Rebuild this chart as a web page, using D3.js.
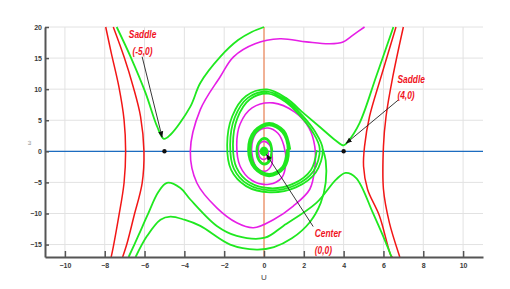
<!DOCTYPE html>
<html>
<head>
<meta charset="utf-8">
<script src="https://cdn.jsdelivr.net/npm/d3@7/dist/d3.min.js"></script>
<style>
body { margin: 0; background: #fff; }
</style>
</head>
<body>
<script>
// tick values for both axes
var xTicks = [-10, -8, -6, -4, -2, 0, 2, 4, 6, 8, 10],
	yTicks = [-15, -10, -5, 0, 5, 10, 15, 20];

// trajectories as [u, v] pairs
// red curves outside the saddles
var redLeftOuter = [[-7.95,20],[-7.67,15.8],[-7.29,10.4],[-7.03,5.1],[-6.95,0],[-7.03,-5.1],[-7.29,-10.4],[-7.67,-16.9],[-7.68,-17]],
	redLeftInner = [[-7.57,20],[-7.03,15.2],[-6.57,10.4],[-6.2,5.6],[-6.03,0],[-6.12,-5.1],[-6.53,-10.4],[-6.87,-14.7],[-7.1,-17]],
	redRightInner = [[6.63,20],[5.88,12],[5.3,5.6],[5.05,0.8],[5.0,-2.4],[5.2,-6.1],[5.8,-10.4],[6.38,-16.8],[6.45,-17]],
	redRightOuter = [[7.0,20],[6.47,12],[6.13,5.6],[6.0,0.8],[6.0,-6.1],[6.3,-11.5],[6.8,-16.8],[6.82,-17]];

// green curves
var greenLeftSaddle = [[-7.4,20],[-6.7,15.2],[-5.95,9.4],[-5.37,4.0],[-5.03,2.0],[-4.7,2.67],[-3.7,7.2],[-3.2,11],[-2.2,15.2],[-1.3,17.9],[-0.62,19.2],[0,20]],
	greenRightSaddle = [[6.5,20],[5.63,12],[4.8,4.55],[4.22,1.6],[4.0,0.96],[3.6,1.75],[2.85,3.8],[2.0,6.1],[1.1,8.6],[0.15,9.95],[-0.9,8.9],
		[-1.6,5.6],[-1.85,1.0],[-1.65,-3.0],[-0.9,-5.6],[0.3,-6.6],[1.6,-5.8],[2.6,-3.4],
		[2.95,0.36],[2.57,3.14],[1.91,5.83],[1.07,8.33],[0.18,9.62],[-0.81,8.6],[-1.47,5.44],[-1.7,1.03],[-1.51,-2.81],[-0.81,-5.31],[0.32,-6.27],
		[1.54,-5.5],[2.48,-3.2],
		[2.8,0.4],[2.45,3.08],[1.83,5.66],[1.04,8.05],[0.21,9.29],[-0.72,8.33],[-1.34,5.3],[-1.56,1.06],[-1.38,-2.62],[-0.72,-5.02],[0.34,-5.94],
		[1.48,-5.2],[2.36,-2.99],[2.65,0.2]],
	greenBottomUpper = [[-6.8,-17],[-6.3,-13.5],[-5.87,-10.4],[-5.3,-6.5],[-4.87,-5.07],[-4.2,-5.9],[-3.7,-7.75],[-2.37,-12],[-1.37,-13.6],[0.05,-13.9],
		[0.97,-12],[2.63,-8.3],[3.63,-4.5],[4.1,-3.47],[4.63,-4.3],[5.47,-9.9],[6.38,-16.8],[6.4,-17]],
	greenBottomLower = [[-6.45,-17],[-5.87,-13.6],[-5.2,-11.0],[-4.7,-10.5],[-4.0,-11.0],[-3.2,-12],[-1.7,-15],[-0.37,-15.8],[0.5,-15.4],[1.4,-14.0],
		[2.3,-11.4],[2.85,-8.3],[3.1,-5.0],[3.1,-1.5],[2.95,0.36]],
	greenMid = [[1.32,0.28],[1.01,3.33],[0.26,4.58],[-0.49,3.33],[-0.8,0.28],[-0.49,-2.77],[0.26,-4.02],[1.01,-2.77],
		[1.25,0.28],[0.96,3.19],[0.26,4.38],[-0.44,3.19],[-0.73,0.28],[-0.44,-2.63],[0.26,-3.82],[0.96,-2.63],
		[1.19,0.28],[0.92,3.05],[0.26,4.18],[-0.4,3.05],[-0.67,0.28],[-0.4,-2.49],[0.26,-3.62],[0.92,-2.49],[1.15,0.3]],
	greenSmall = [[0.42,0],[0.3,1.52],[0.02,2.15],[-0.26,1.52],[-0.38,0],[-0.26,-1.52],[0.02,-2.15],[0.3,-1.52],
		[0.38,0],[0.27,1.41],[0.02,2.0],[-0.23,1.41],[-0.34,0],[-0.23,-1.41],[0.02,-2.0],[0.27,-1.41],[0.37,0]],
	greenCore = [[0.2,0],[0.14,0.5],[0,0.68],[-0.14,0.5],[-0.2,0],[-0.14,-0.5],[0,-0.68],[0.14,-0.5]];

// magenta spiral coming in from the top right
var magentaSpiral = [[5.05,20],[4.47,18.7],[3.97,17.6],[3.3,17.3],[2.13,17.6],[0.8,18.1],[-0.45,17.3],[-1.53,15.2],[-2.2,12],[-3.2,6.7],[-3.7,0],
		[-3.37,-5.1],[-2.37,-9.1],[-1.37,-11.5],[-0.53,-12.3],[0.47,-11],[1.47,-8.8],[2.3,-6.1],
		[2.55,-2.6],[2.55,0.8],[2.25,3.8],[1.55,6.3],[0.45,7.8],[-0.6,7.0],[-1.2,4.4],[-1.37,1.0],[-1.2,-2.4],[-0.6,-4.7],[0.25,-5.3],[0.9,-4.2],
		[1.1,-1.8],[1.0,0.9],[0.7,2.9],[0.2,3.75],[-0.35,3.1],[-0.6,1.3],[-0.58,-0.9],[-0.35,-2.7],[0.05,-3.2],[0.38,-2.2],[0.4,-0.4],[0.28,1.0],
		[0.02,1.6],[-0.22,1.2],[-0.28,0],[-0.2,-1.0],[0.02,-1.3],[0.2,-0.8],[0.18,0.2]];

// equilibrium points and their notes
var saddles = [[-5, 0], [4, 0]],
	noteText = [['Saddle', '(-5,0)'], ['Saddle', '(4,0)'], ['Center', '(0,0)']],
	noteAt = [[-6.1, 18.2], [6.7, 11.0], [2.55, -13.8]],
	noteAnchor = ['middle', 'start', 'start'],
	arrowFrom = [[-6.12, 15.2], [6.75, 8.27], [2.47, -12.1]],
	arrowTo = [[-5.12, 2.3], [4.13, 1.3], [0.13, -0.53]];

// sizing
var width = 510, height = 289,
	p_left = 45, p_right = 483, p_top = 27, p_bottom = 257;

var x = d3.scaleLinear().domain([-11, 11]).range([p_left, p_right]),
	y = d3.scaleLinear().domain([-17, 20]).range([p_bottom, p_top]);

var svg = d3.select('body').append('svg')
	.attr('width', width)
	.attr('height', height)
	.style('font-family', 'Liberation Sans, Arial, sans-serif');

// arrow head
svg.append('defs').append('marker')
	.attr('id', 'head')
	.attr('viewBox', '0 0 10 10')
	.attr('refX', 9)
	.attr('refY', 5)
	.attr('markerWidth', 7)
	.attr('markerHeight', 7)
	.attr('orient', 'auto')
	.append('path')
	.attr('d', 'M0,1L10,5L0,9Z')
	.attr('fill', '#111');

// grid
svg.append('g').selectAll('line').data(xTicks).enter().append('line')
	.attr('x1', function(d) { return x(d); })
	.attr('x2', function(d) { return x(d); })
	.attr('y1', p_top)
	.attr('y2', p_bottom)
	.attr('stroke', '#e2e2e2')
	.attr('stroke-width', 1);
svg.append('g').selectAll('line').data(yTicks).enter().append('line')
	.attr('x1', p_left)
	.attr('x2', p_right)
	.attr('y1', function(d) { return y(d); })
	.attr('y2', function(d) { return y(d); })
	.attr('stroke', '#e2e2e2')
	.attr('stroke-width', 1);

// zero lines
svg.append('line')
	.attr('x1', x(0)).attr('x2', x(0))
	.attr('y1', p_top).attr('y2', p_bottom)
	.attr('stroke', '#f0733a')
	.attr('stroke-width', 1);
svg.append('line')
	.attr('x1', p_left).attr('x2', p_right)
	.attr('y1', y(0)).attr('y2', y(0))
	.attr('stroke', '#1c6cc0')
	.attr('stroke-width', 1.3);

var line = d3.line()
	.x(function(d) { return x(d[0]); })
	.y(function(d) { return y(d[1]); })
	.curve(d3.curveCatmullRom.alpha(0.5));

function draw_curve(pts, color, w) {
	svg.append('path')
		.attr('d', line(pts))
		.attr('fill', 'none')
		.attr('stroke', color)
		.attr('stroke-width', w)
		.attr('stroke-linejoin', 'round');
}

var red = '#f21616', green = '#1fe81f', magenta = '#e61ee6';

draw_curve(redLeftOuter, red, 1.5);
draw_curve(redLeftInner, red, 1.5);
draw_curve(redRightInner, red, 1.5);
draw_curve(redRightOuter, red, 1.5);

draw_curve(magentaSpiral, magenta, 1.6);

draw_curve(greenLeftSaddle, green, 1.8);
draw_curve(greenRightSaddle, green, 1.8);
draw_curve(greenBottomUpper, green, 1.8);
draw_curve(greenBottomLower, green, 1.8);
draw_curve(greenMid, green, 1.8);
draw_curve(greenSmall, green, 1.8);

// filled blob in the middle
svg.append('path')
	.attr('d', d3.line()
		.x(function(d) { return x(d[0]); })
		.y(function(d) { return y(d[1]); })
		.curve(d3.curveCatmullRomClosed)(greenCore))
	.attr('fill', green)
	.attr('stroke', green)
	.attr('stroke-width', 1);

// saddle points
svg.append('g').selectAll('circle').data(saddles).enter().append('circle')
	.attr('cx', function(d) { return x(d[0]); })
	.attr('cy', function(d) { return y(d[1]); })
	.attr('r', 2.2)
	.attr('fill', '#111');

// arrows from the notes
for (var i = 0; i < arrowFrom.length; i++) {
	svg.append('line')
		.attr('x1', x(arrowFrom[i][0]))
		.attr('y1', y(arrowFrom[i][1]))
		.attr('x2', x(arrowTo[i][0]))
		.attr('y2', y(arrowTo[i][1]))
		.attr('stroke', '#222')
		.attr('stroke-width', 0.9)
		.attr('marker-end', 'url(#head)');
}

// notes, two lines each, squeezed a bit sideways
for (var i = 0; i < noteText.length; i++) {
	for (var j = 0; j < 2; j++) {
		svg.append('text')
			.text(noteText[i][j])
			.attr('transform', 'translate(' + x(noteAt[i][0]) + ',' + (y(noteAt[i][1]) + j * 16.5) + ') scale(0.8,1)')
			.attr('text-anchor', noteAnchor[i])
			.attr('font-size', 10.5)
			.attr('font-weight', 'bold')
			.attr('font-style', 'italic')
			.attr('fill', '#f0141e');
	}
}

// axes
var xAxis = svg.append('g')
	.attr('transform', 'translate(0,' + p_bottom + ')')
	.call(d3.axisBottom(x).tickValues(xTicks).tickSizeInner(-6).tickSizeOuter(0).tickPadding(6));
var yAxis = svg.append('g')
	.attr('transform', 'translate(' + p_left + ',0)')
	.call(d3.axisLeft(y).tickValues(yTicks).tickSizeInner(-4).tickSizeOuter(0).tickPadding(3));

[xAxis, yAxis].forEach(function(a) {
	a.select('.domain').attr('stroke', '#555').attr('stroke-width', 2);
	a.selectAll('.tick line').attr('stroke', '#555').attr('stroke-width', 1.5);
	a.selectAll('.tick text')
		.attr('font-size', 7)
		.attr('font-weight', 'bold')
		.attr('font-family', 'Liberation Sans, Arial, sans-serif')
		.attr('fill', '#3a3a3a');
});

// axis titles
svg.append('text')
	.text('U')
	.attr('x', x(0))
	.attr('y', 280)
	.attr('text-anchor', 'middle')
	.attr('font-size', 8)
	.attr('fill', '#444');
svg.append('text')
	.text('ω')
	.attr('transform', 'translate(31,143) rotate(-90)')
	.attr('text-anchor', 'middle')
	.attr('font-size', 6)
	.attr('fill', '#888');
</script>
</body>
</html>
